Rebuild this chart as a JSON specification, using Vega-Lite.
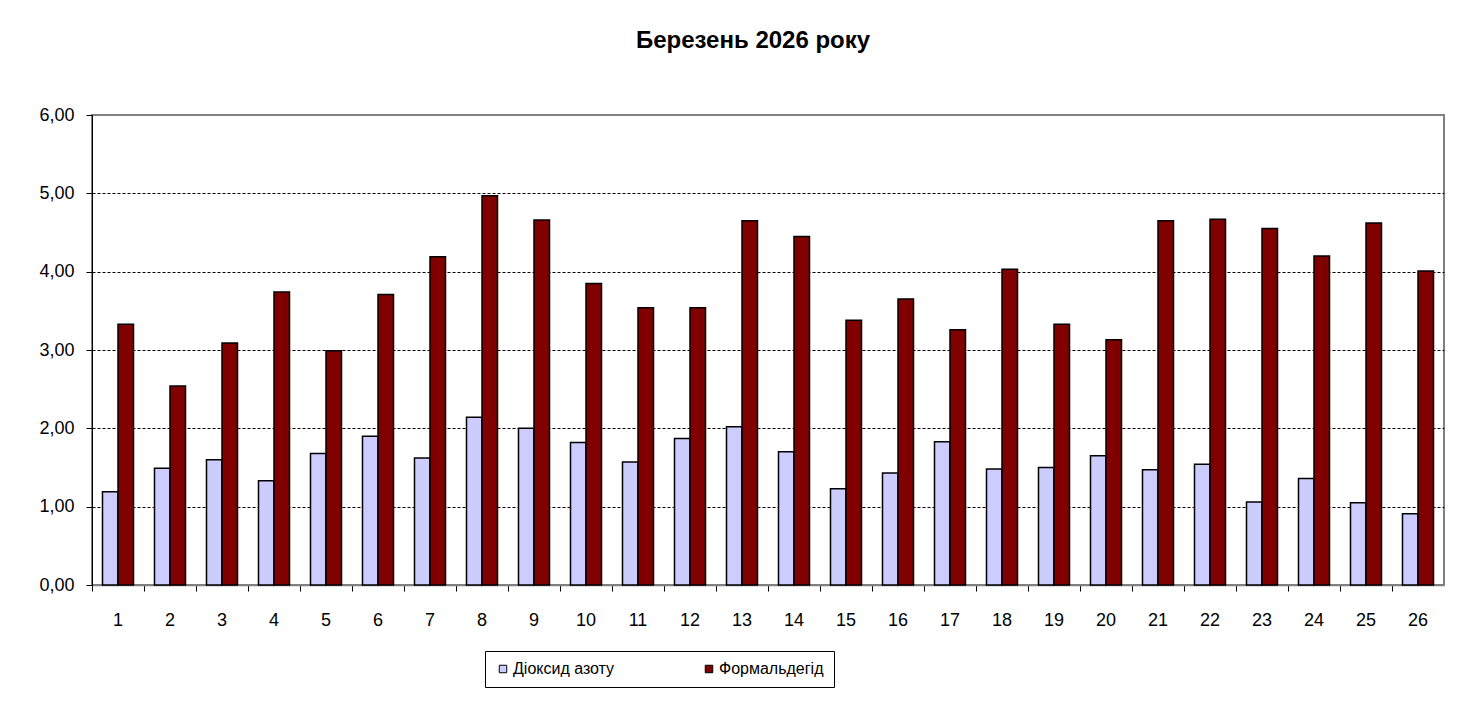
{
  "$schema": "https://vega.github.io/schema/vega-lite/v6.json",
  "autosize": {"type": "none"},
  "width": 1352,
  "height": 470,
  "padding": {"left": 92, "top": 115, "right": 24, "bottom": 116},
  "background": "white",
  "title": {
    "text": "Березень 2026 року",
    "font": "Liberation Sans",
    "fontSize": 24,
    "fontWeight": "bold",
    "color": "black",
    "anchor": "middle",
    "frame": "group",
    "dx": -15,
    "offset": 53
  },
  "data": {
    "values": [
      {"day": 1, "series": "Діоксид азоту", "value": 1.19},
      {"day": 1, "series": "Формальдегід", "value": 3.33},
      {"day": 2, "series": "Діоксид азоту", "value": 1.49},
      {"day": 2, "series": "Формальдегід", "value": 2.54},
      {"day": 3, "series": "Діоксид азоту", "value": 1.60},
      {"day": 3, "series": "Формальдегід", "value": 3.09},
      {"day": 4, "series": "Діоксид азоту", "value": 1.33},
      {"day": 4, "series": "Формальдегід", "value": 3.74},
      {"day": 5, "series": "Діоксид азоту", "value": 1.68},
      {"day": 5, "series": "Формальдегід", "value": 2.99},
      {"day": 6, "series": "Діоксид азоту", "value": 1.90},
      {"day": 6, "series": "Формальдегід", "value": 3.71},
      {"day": 7, "series": "Діоксид азоту", "value": 1.62},
      {"day": 7, "series": "Формальдегід", "value": 4.19},
      {"day": 8, "series": "Діоксид азоту", "value": 2.14},
      {"day": 8, "series": "Формальдегід", "value": 4.97},
      {"day": 9, "series": "Діоксид азоту", "value": 2.00},
      {"day": 9, "series": "Формальдегід", "value": 4.66},
      {"day": 10, "series": "Діоксид азоту", "value": 1.82},
      {"day": 10, "series": "Формальдегід", "value": 3.85},
      {"day": 11, "series": "Діоксид азоту", "value": 1.57},
      {"day": 11, "series": "Формальдегід", "value": 3.54},
      {"day": 12, "series": "Діоксид азоту", "value": 1.87},
      {"day": 12, "series": "Формальдегід", "value": 3.54},
      {"day": 13, "series": "Діоксид азоту", "value": 2.02},
      {"day": 13, "series": "Формальдегід", "value": 4.65},
      {"day": 14, "series": "Діоксид азоту", "value": 1.70},
      {"day": 14, "series": "Формальдегід", "value": 4.45},
      {"day": 15, "series": "Діоксид азоту", "value": 1.23},
      {"day": 15, "series": "Формальдегід", "value": 3.38},
      {"day": 16, "series": "Діоксид азоту", "value": 1.43},
      {"day": 16, "series": "Формальдегід", "value": 3.65},
      {"day": 17, "series": "Діоксид азоту", "value": 1.83},
      {"day": 17, "series": "Формальдегід", "value": 3.26},
      {"day": 18, "series": "Діоксид азоту", "value": 1.48},
      {"day": 18, "series": "Формальдегід", "value": 4.03},
      {"day": 19, "series": "Діоксид азоту", "value": 1.50},
      {"day": 19, "series": "Формальдегід", "value": 3.33},
      {"day": 20, "series": "Діоксид азоту", "value": 1.65},
      {"day": 20, "series": "Формальдегід", "value": 3.13},
      {"day": 21, "series": "Діоксид азоту", "value": 1.47},
      {"day": 21, "series": "Формальдегід", "value": 4.65},
      {"day": 22, "series": "Діоксид азоту", "value": 1.54},
      {"day": 22, "series": "Формальдегід", "value": 4.67},
      {"day": 23, "series": "Діоксид азоту", "value": 1.06},
      {"day": 23, "series": "Формальдегід", "value": 4.55},
      {"day": 24, "series": "Діоксид азоту", "value": 1.36},
      {"day": 24, "series": "Формальдегід", "value": 4.20},
      {"day": 25, "series": "Діоксид азоту", "value": 1.05},
      {"day": 25, "series": "Формальдегід", "value": 4.62},
      {"day": 26, "series": "Діоксид азоту", "value": 0.91},
      {"day": 26, "series": "Формальдегід", "value": 4.01}
    ]
  },
  "mark": {"type": "bar", "stroke": "black", "strokeWidth": 1.5},
  "encoding": {
    "x": {
      "field": "day",
      "type": "ordinal",
      "scale": {"paddingInner": 0, "paddingOuter": 0},
      "axis": {
        "title": null,
        "labelAngle": 0,
        "labelFont": "Liberation Sans",
        "labelFontSize": 18,
        "labelColor": "black",
        "labelPadding": 20,
        "tickColor": "black",
        "tickSize": 6,
        "tickWidth": 1,
        "bandPosition": 0,
        "domainColor": "#808080",
        "domainWidth": 1.5,
        "grid": false
      }
    },
    "xOffset": {
      "field": "series",
      "type": "nominal",
      "scale": {"paddingInner": 0, "paddingOuter": 0.677}
    },
    "y": {
      "field": "value",
      "type": "quantitative",
      "scale": {"domain": [0, 6], "nice": false, "zero": true},
      "axis": {
        "title": null,
        "values": [0, 1, 2, 3, 4, 5, 6],
        "labelExpr": "replace(format(datum.value, '.2f'), '.', ',')",
        "labelFont": "Liberation Sans",
        "labelFontSize": 18,
        "labelColor": "black",
        "labelPadding": 12,
        "tickColor": "black",
        "tickSize": 6,
        "tickWidth": 1,
        "domainColor": "black",
        "domainWidth": 1,
        "grid": true,
        "gridColor": "black",
        "gridWidth": 1,
        "gridDash": [3, 2],
        "gridOpacity": {"condition": {"test": "datum.value == 0 || datum.value == 6", "value": 0}, "value": 1}
      }
    },
    "fill": {
      "field": "series",
      "type": "nominal",
      "scale": {"domain": ["Діоксид азоту", "Формальдегід"], "range": ["#CCCCFF", "#800000"]},
      "legend": {
        "title": null,
        "orient": "none",
        "direction": "horizontal",
        "legendX": 393,
        "legendY": 536,
        "padding": 10,
        "strokeColor": "black",
        "fillColor": "white",
        "symbolType": "square",
        "symbolSize": 56,
        "symbolStrokeColor": "black",
        "symbolStrokeWidth": 1,
        "labelFont": "Liberation Sans",
        "labelFontSize": 16,
        "labelColor": "black",
        "labelOffset": 2,
        "columnPadding": 86
      }
    }
  },
  "config": {
    "view": {"stroke": "#808080", "strokeWidth": 2}
  }
}
